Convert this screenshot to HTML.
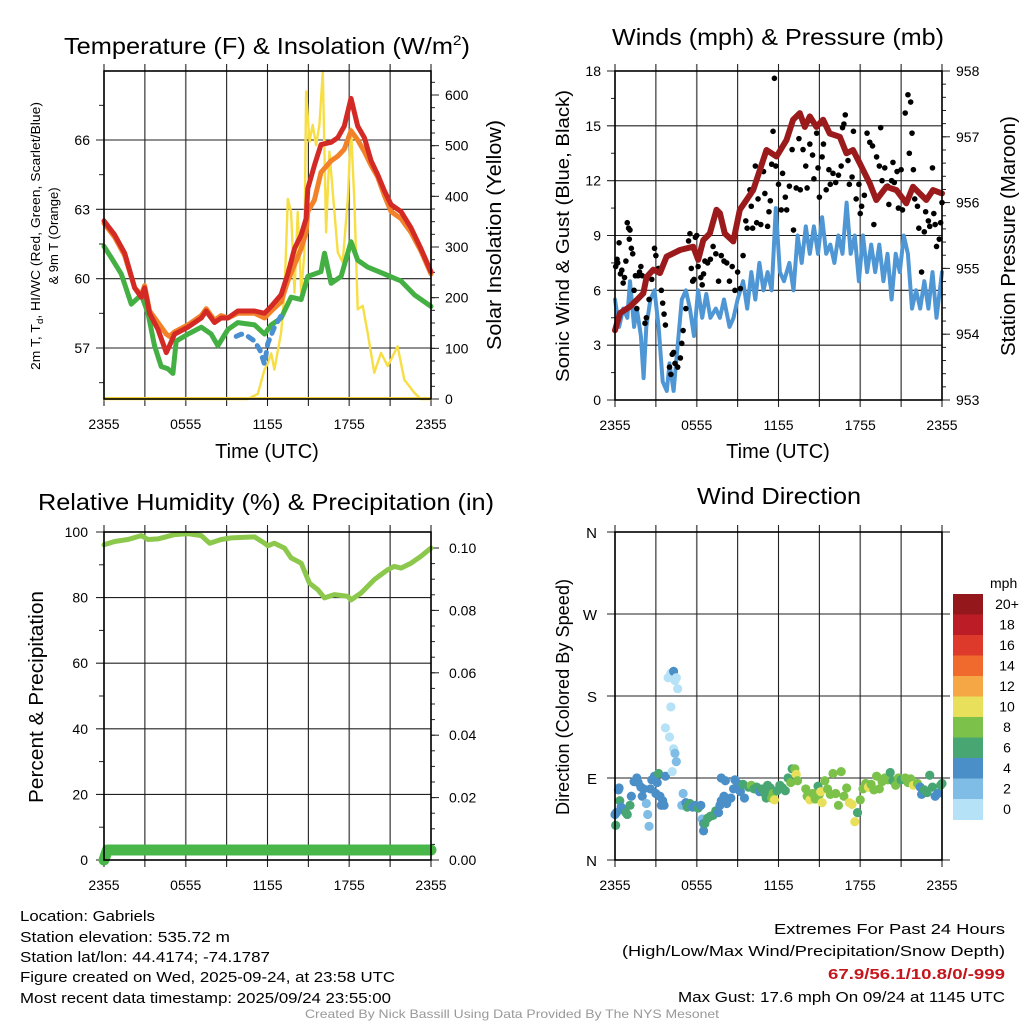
<!DOCTYPE html>
<html><head><meta charset="utf-8"><style>
html,body{margin:0;padding:0;background:#fff;}
svg{display:block;font-family:"Liberation Sans",Arial,sans-serif;}
</style></head><body>
<svg id="fig" width="1024" height="1024" viewBox="0 0 1024 1024" xmlns="http://www.w3.org/2000/svg">
<rect width="1024" height="1024" fill="#fff"/>
<g id="p1"></g>
<g id="p2"></g>
<g id="p3"></g>
<g id="p4"></g>
<text x="267" y="54" font-size="23" text-anchor="middle" textLength="406" lengthAdjust="spacingAndGlyphs">Temperature (F) &amp; Insolation (W/m<tspan font-size="14" dy="-9">2</tspan><tspan dy="9">)</tspan></text>
<text x="778" y="45" font-size="23" text-anchor="middle" textLength="332" lengthAdjust="spacingAndGlyphs">Winds (mph) &amp; Pressure (mb)</text>
<text x="266" y="510" font-size="23" text-anchor="middle" textLength="456" lengthAdjust="spacingAndGlyphs">Relative Humidity (%) &amp; Precipitation (in)</text>
<text x="779" y="504" font-size="23" text-anchor="middle" textLength="164" lengthAdjust="spacingAndGlyphs">Wind Direction</text>
<text x="267" y="458" font-size="20" text-anchor="middle">Time (UTC)</text>
<text x="778" y="458" font-size="20" text-anchor="middle">Time (UTC)</text>
<text transform="translate(40,236) rotate(-90)" font-size="13" text-anchor="middle" textLength="268" lengthAdjust="spacingAndGlyphs">2m T, T<tspan font-size="9" dy="3">d</tspan><tspan dy="-3">, HI/WC (Red, Green, Scarlet/Blue)</tspan></text>
<text transform="translate(58,236) rotate(-90)" font-size="13" text-anchor="middle">&amp; 9m T (Orange)</text>
<text transform="translate(501,235) rotate(-90)" font-size="20" text-anchor="middle" textLength="230" lengthAdjust="spacingAndGlyphs">Solar Insolation (Yellow)</text>
<text transform="translate(569,236) rotate(-90)" font-size="18" text-anchor="middle" textLength="292" lengthAdjust="spacingAndGlyphs">Sonic Wind &amp; Gust (Blue, Black)</text>
<text transform="translate(1015,236) rotate(-90)" font-size="20" text-anchor="middle" textLength="240" lengthAdjust="spacingAndGlyphs">Station Pressure (Maroon)</text>
<text transform="translate(43,697) rotate(-90)" font-size="20" text-anchor="middle" textLength="212" lengthAdjust="spacingAndGlyphs">Percent &amp; Precipitation</text>
<text transform="translate(569,697) rotate(-90)" font-size="18" text-anchor="middle" textLength="236" lengthAdjust="spacingAndGlyphs">Direction (Colored By Speed)</text>
<g font-size="15">
<text x="20" y="921" textLength="135" lengthAdjust="spacingAndGlyphs">Location: Gabriels</text>
<text x="20" y="942" textLength="210" lengthAdjust="spacingAndGlyphs">Station elevation: 535.72 m</text>
<text x="20" y="962" textLength="250" lengthAdjust="spacingAndGlyphs">Station lat/lon: 44.4174; -74.1787</text>
<text x="20" y="982" textLength="375" lengthAdjust="spacingAndGlyphs">Figure created on Wed, 2025-09-24, at 23:58 UTC</text>
<text x="20" y="1003" textLength="371" lengthAdjust="spacingAndGlyphs">Most recent data timestamp: 2025/09/24 23:55:00</text>
</g>
<g font-size="15" text-anchor="end">
<text x="1005" y="934" textLength="231" lengthAdjust="spacingAndGlyphs">Extremes For Past 24 Hours</text>
<text x="1005" y="956" textLength="383" lengthAdjust="spacingAndGlyphs">(High/Low/Max Wind/Precipitation/Snow Depth)</text>
<text x="1005" y="979" fill="#c4161c" font-weight="bold" textLength="177" lengthAdjust="spacingAndGlyphs">67.9/56.1/10.8/0/-999</text>
<text x="1005" y="1002" textLength="327" lengthAdjust="spacingAndGlyphs">Max Gust: 17.6 mph On 09/24 at 1145 UTC</text>
</g>
<text x="512" y="1018" font-size="12" fill="#999" text-anchor="middle" textLength="414" lengthAdjust="spacingAndGlyphs">Created By Nick Bassill Using Data Provided By The NYS Mesonet</text>
</svg>
<script>
// ---- Temperature panel data (hours since 2355) ----
const tempHours = [0,0.78,1.52,2.25,2.74,2.98,3.35,3.96,4.57,4.81,5.18,6.16,7.14,7.5,8.11,8.6,9.09,9.82,11.05,11.78,12.27,13.0,13.49,13.98,14.47,14.83,14.96,15.44,15.93,16.67,17.16,17.64,18.13,18.62,19.11,19.6,20.09,20.58,21.07,21.8,22.53,23.26,24];
const tempRed = [62.5,61.9,61.1,59.6,59.2,59.6,58.5,57.8,56.8,57.1,57.6,57.9,58.3,58.6,58.1,58.3,58.3,58.6,58.6,58.5,58.8,59.3,60.2,61.3,61.9,62.6,63.9,64.9,65.8,65.9,66.1,66.6,67.8,66.6,66.1,65.1,64.5,63.8,63.2,62.9,62.2,61.3,60.3];
const tempOrange = [62.4,61.8,61.0,59.6,59.3,59.7,58.6,58.1,57.6,57.5,57.7,58.0,58.4,58.7,58.2,58.4,58.3,58.5,58.5,58.3,58.6,59.0,59.9,60.6,61.3,62.0,62.9,63.4,64.6,65.1,65.3,65.6,66.4,66.0,65.5,64.9,64.4,63.6,62.9,62.6,62.0,61.2,60.2];
const dewHours = [0,0.54,1.27,2.0,2.74,3.23,3.71,4.2,4.69,5.06,5.3,6.16,7.14,7.87,8.36,9.09,9.82,11.05,11.78,12.27,13.0,13.73,14.47,14.96,15.93,16.18,16.67,17.4,18.13,18.62,19.35,20.58,21.8,22.78,24];
const dewGreen = [61.4,60.9,60.2,58.9,59.3,58.5,57.1,56.2,56.1,55.9,57.3,57.6,57.9,57.6,57.1,57.8,58.1,58.0,57.6,58.0,58.3,59.2,59.1,60.1,60.3,61.1,59.8,60.1,61.6,60.8,60.5,60.2,59.9,59.3,58.8];
const wcHours = [9.7,10.07,10.56,11.05,11.45,11.78,12.02,12.51,13.0];
const wcBlue = [57.5,57.6,57.5,57.3,56.9,56.3,57.2,57.9,58.4];
const solarHours = [0,10.56,11.29,11.78,12.02,12.27,12.51,13.0,13.25,13.49,13.73,13.98,14.22,14.47,14.71,14.83,15.08,15.32,15.57,15.81,16.06,16.3,16.54,16.79,17.16,17.52,17.89,18.13,18.38,18.62,18.99,19.35,19.84,20.33,20.82,21.55,22.04,22.78,23.26,24];
const solarVals = [0,0,10,58,70,90,58,131,210,395,369,210,369,210,289,607,508,541,501,541,646,329,488,408,289,270,395,534,389,177,184,131,52,91,65,104,38,12,0,0];
// ---- Winds panel data ----
const presHours = [0,0.37,1.1,1.59,2.08,2.32,2.81,3.3,3.79,4.28,4.77,5.74,6.11,6.48,6.96,7.45,7.7,8.06,8.68,9.16,10.14,11.12,11.85,12.59,13.07,13.56,13.93,14.3,14.78,15.27,15.76,16.5,16.98,17.47,17.96,18.7,19.18,19.92,20.65,21.38,21.87,22.85,23.34,24];
const presVals = [954.06,954.32,954.42,954.52,954.62,954.87,954.98,954.93,955.18,955.23,955.28,955.33,955.13,955.43,955.53,955.89,955.84,955.53,955.41,955.89,956.19,956.8,956.7,956.95,957.26,957.36,957.15,957.31,957.15,957.26,957.05,957.0,956.75,956.8,956.6,956.29,956.04,956.24,956.19,955.99,956.24,956.04,956.19,956.14];
const windHours = [0,0.3,0.6,0.9,1.1,1.4,1.6,1.9,2.1,2.3,2.6,2.9,3.2,3.5,3.8,4.0,4.3,4.6,4.9,5.2,5.5,5.8,6.1,6.4,6.7,7.0,7.4,7.7,8.0,8.4,8.7,9.0,9.4,9.7,10.0,10.3,10.6,10.9,11.2,11.5,11.8,12.1,12.4,12.8,13.1,13.4,13.7,14.0,14.3,14.6,14.9,15.2,15.5,15.8,16.1,16.4,16.7,17.0,17.3,17.6,17.9,18.2,18.5,18.8,19.1,19.4,19.7,20.0,20.3,20.6,20.9,21.2,21.5,21.8,22.1,22.4,22.7,23.0,23.3,23.6,24];
const windVals = [5.5,4,5,4.5,6.5,4,5,3.5,1.2,4,5.5,6,4,1,0.5,2,0.5,3,5.5,6,5,3.5,6,4.5,5.8,4.5,5,4.5,5.5,4,4.5,5.5,6.5,5,7,5.5,7.5,6,7,6,10.5,7,6.5,7.5,6,9,7.5,9.5,8,9.5,8,10,8,8.5,7.5,9,8,10.8,8,9,6.5,9,7,8.5,7,8.5,6.5,8,5.5,8,7,9,8,5,6,5,6.5,5,7,4.5,7];
const gustHours = [0.05,0.15,0.2,0.3,0.4,0.5,0.6,0.7,0.8,0.9,1.0,1.05,1.1,1.2,1.3,1.4,1.5,1.6,1.7,1.8,1.9,2.0,2.2,2.3,2.5,2.7,2.9,3.0,3.2,3.4,3.5,3.6,3.7,4.0,4.1,4.2,4.3,4.4,4.6,4.8,4.9,5.0,5.2,5.4,5.5,5.6,5.7,5.8,5.9,6.0,6.1,6.3,6.4,6.5,6.6,6.8,7.0,7.2,7.4,7.6,7.8,8.0,8.2,8.4,8.6,8.8,9.0,9.2,9.4,9.6,9.7,9.9,10.0,10.1,10.3,10.4,10.5,10.7,10.9,11.0,11.2,11.3,11.4,11.5,11.6,11.7,11.8,12.0,12.2,12.3,12.5,12.6,12.8,13.0,13.1,13.3,13.5,13.6,13.8,14.0,14.1,14.3,14.5,14.6,14.8,14.9,15.0,15.2,15.3,15.5,15.7,15.8,16.0,16.2,16.4,16.6,16.7,16.8,16.9,17.1,17.2,17.4,17.5,17.7,17.9,18.0,18.1,18.3,18.5,18.7,18.9,19.0,19.2,19.4,19.5,19.6,19.8,20.0,20.1,20.3,20.4,20.5,20.7,20.8,21.0,21.1,21.3,21.5,21.6,21.7,21.8,21.9,22.0,22.2,22.3,22.5,22.7,22.8,23.0,23.1,23.3,23.4,23.5,23.6,23.8,23.9,24.0];
const gustVals = [7.3,7.7,7.5,8.6,6.9,7.1,6.4,6.7,7.6,9.7,9.4,8.8,9.3,8.3,8.0,6.0,6.8,5.0,6.8,7.0,7.3,6.8,4.2,4.5,5.5,6.6,8.3,7.9,7.2,6.0,5.3,4.7,4.1,1.8,1.4,2.5,2.6,2.0,1.8,2.3,3.1,3.8,5.0,8.7,9.1,7.2,6.5,6.6,8.9,9.0,7.3,6.7,6.3,6.9,7.6,7.5,7.7,8.4,8.0,6.5,7.9,7.6,7.5,6.5,7.3,6.0,7.0,6.1,7.9,9.8,9.4,11.5,10.6,9.4,12.8,9.7,11.0,9.6,12.5,11.3,9.5,10.3,10.9,12.9,14.7,17.6,12.8,11.8,10.4,12.4,11.1,10.4,11.7,13.7,9.3,11.6,14.3,11.5,13.7,12.8,11.6,14.0,13.4,12.1,14.6,12.7,11.1,13.3,14.0,11.5,12.6,11.8,12.4,11.9,12.3,12.8,14.9,15.1,15.6,13.1,11.8,12.2,14.7,11.0,11.8,10.2,10.6,11.2,14.6,14.1,13.9,9.6,13.3,12.8,14.9,12.0,12.7,11.7,10.7,12.0,13.0,11.9,12.5,10.5,12.6,10.4,15.7,16.7,13.5,16.3,14.6,12.6,11.0,10.6,9.4,7.0,9.2,10.3,9.8,9.5,12.7,10.2,9.6,8.4,8.8,9.7,10.8];
// ---- Humidity panel data ----
const rhHours = [0,0.78,1.76,2.74,3.23,3.96,5.18,6.16,7.14,7.75,8.6,9.34,11.05,11.78,12.02,12.51,13.25,13.73,14.47,15.08,15.69,16.18,16.91,17.89,18.13,18.87,19.84,20.82,21.31,21.8,22.53,23.26,24];
const rhVals = [96.1,97.1,97.7,98.9,97.7,97.9,99.2,99.5,98.9,96.6,97.7,98.2,98.5,96.6,95.8,96.6,95.1,92.1,90.5,84.4,82.4,79.9,80.9,80.4,79.3,81.4,85.5,88.5,89.5,89.0,90.5,92.6,95.1];
const precipHours = [0,0.25,24];
const precipVals = [0,0.0032,0.0032];
// ---- Wind direction data ----
const dirHours = [0,0.05,0.1,0.25,0.3,0.35,0.45,0.6,0.8,0.9,1.1,1.2,1.4,1.6,1.7,1.9,2.0,2.1,2.3,2.4,2.5,2.6,2.7,2.9,3.0,3.1,3.2,3.3,3.4,3.5,3.6,3.7,3.9,4.0,4.1,4.2,4.3,4.4,4.5,4.6,4.1,3.7,4.0,4.3,4.4,4.5,4.2,5.0,4.9,5.2,5.3,5.5,5.7,5.9,6.1,6.3,6.4,6.5,6.5,6.6,6.8,7.0,7.2,7.4,7.6,7.7,7.8,8.0,7.8,8.1,8.2,8.5,8.7,8.8,9.0,9.2,9.4,9.5,9.8,10.0,10.2,10.4,10.6,10.8,11.0,11.1,11.2,11.4,11.5,11.6,11.7,11.9,12.1,12.3,12.5,12.7,12.9,13.0,13.2,13.3,13.4,14.0,14.1,14.3,14.5,14.7,14.9,15.0,15.1,15.2,15.4,15.6,15.8,16.0,16.2,16.4,16.6,16.8,17.0,17.2,17.4,17.6,17.8,18.0,18.2,18.4,18.6,18.8,19.0,19.2,19.4,19.6,19.8,20.0,20.2,20.4,20.6,20.8,21.0,21.3,21.5,21.7,21.9,22.2,22.4,22.5,22.7,22.9,23.1,23.3,23.5,23.7,23.9,24.0];
const dirDeg = [50,38,52,77,79,65,58,55,52,50,60,70,86,90,85,80,70,78,62,50,37,78,88,92,73,85,95,70,60,65,60,92,200,201,205,200,207,197,200,188,168,145,135,122,117,108,97,73,60,63,58,62,58,60,57,60,45,40,32,40,46,48,49,54,52,60,65,70,90,87,62,68,78,88,84,75,83,68,80,82,78,80,75,78,73,68,82,79,68,73,66,76,82,79,76,90,85,100,100,94,87,78,70,66,73,67,81,72,75,63,87,78,72,95,73,60,97,70,79,63,61,42,52,66,78,84,80,83,77,92,78,86,90,88,96,87,82,90,88,90,85,89,82,84,80,72,77,74,93,80,70,73,82,84];
const dirSpeed = [4,6,4,4,4,6,5,4,6,6,6,4,4,4,4,4,4,4,2,2,2,4,4,4,4,4,6,4,4,4,4,4,0,0,0,0,4,0,0,0,0,0,0,0,2,2,0,2,2,4,6,6,4,4,6,4,2,4,4,6,6,6,6,6,4,4,4,4,4,4,4,4,4,4,4,4,6,4,6,8,6,6,4,6,6,6,6,6,8,8,10,6,6,6,6,6,8,6,8,10,8,8,8,10,8,8,6,8,10,10,8,8,8,8,8,8,8,8,8,10,10,10,6,8,8,8,10,8,8,8,8,8,8,8,6,6,8,8,6,8,8,8,10,8,4,4,6,6,6,6,4,4,6,6];
const speedBinLabels = ["0","2","4","6","8","10","12","14","16","18","20+"];
const speedBinColors = ["#b5e2f7","#80bde6","#4a8fc7","#48a673","#7cc24a","#e8e05a","#f5a746","#ef6a2c","#dd3a2b","#bb1c25","#93171b"];
const timeTickLabels = ["2355","0555","1155","1755","2355"];
const tempTicks = [57,60,63,66];
const solarTicks = [0,100,200,300,400,500,600];
const windTicks = [0,3,6,9,12,15,18];
const presTicks = [953,954,955,956,957,958];
const rhTicks = [0,20,40,60,80,100];
const precipTicks = [0,0.02,0.04,0.06,0.08,0.10];
const dirTickVals = [0,90,180,270,360];
const dirTickLabels = ["N","E","S","W","N"];

const NS="http://www.w3.org/2000/svg";
function mk(parent,tag,attrs){const e=document.createElementNS(NS,tag);for(const k in attrs)e.setAttribute(k,attrs[k]);parent.appendChild(e);return e;}
function lin(d0,d1,r0,r1){return v=>r0+(v-d0)*(r1-r0)/(d1-d0);}

function frame(g,L,R,T,B,xs){
  // vertical grid every 3h
  for(let h=0;h<=24;h+=3){
    const x=xs(h);
    const l=mk(g,'line',{x1:x,y1:T-7,x2:x,y2:B+7,stroke:(h%6===0&&h%12!==0)?'#666':'#222','stroke-width':(h%6===0&&h%12!==0)?1.6:1.1});
    
    
  }
  timeTickLabels.forEach((t,i)=>{
    const tx=mk(g,'text',{x:xs(i*6),y:B+30,'font-size':14,'text-anchor':'middle'});
    
    
    tx.textContent=t;
  });
}
function hgrid(g,L,R,ys,ticks,fmt,side,minor){
  ticks.forEach(v=>{
    const y=ys(v);
    const l=mk(g,'line',{x1:side==='left'?L-8:L,y1:y,x2:side==='left'?R:R+8,y2:y,stroke:'#222','stroke-width':1.1});
    
    
  });
}
function yLabels(g,x,ys,ticks,fmt,anchor){
  ticks.forEach(v=>{
    const t=mk(g,'text',{x:x,y:ys(v)+5,'font-size':14,'text-anchor':anchor});
    
    
    t.textContent=fmt(v);
  });
}
function ticksOut(g,x,ys,vals,len){
  vals.forEach(v=>{mk(g,'line',{x1:x,y1:ys(v),x2:x+len,y2:ys(v),stroke:'#222','stroke-width':1});});
}
function path(g,xs,ys,X,Y,attrs,name){
  let d='';X.forEach((h,i)=>{d+=(i?'L':'M')+xs(h).toFixed(1)+','+ys(Y[i]).toFixed(1);});
  const p=mk(g,'path',Object.assign({d:d,fill:'none','stroke-linejoin':'round','stroke-linecap':'round'},attrs));
  
  
  return p;
}
function box(g,L,R,T,B){const r=mk(g,'rect',{x:L,y:T,width:R-L,height:B-T,fill:'none',stroke:'#000','stroke-width':1.6});}

// Panel 1
(function(){
  const g=document.getElementById('p1');const L=104,R=431,T=71,B=399;
  const xs=lin(0,24,L,R), yT=lin(57,66,348,140), yS=lin(0,600,399,95);
  frame(g,L,R,T,B,xs);
  hgrid(g,L,R,yT,tempTicks,null,'left');
  ticksOut(g,L,yT,[55.5,58.5,61.5,64.5,67.5],-5);
  ticksOut(g,R,yS,solarTicks,8);
  const mi=[];for(let v=0;v<=640;v+=25)mi.push(v);ticksOut(g,R,yS,mi,4);
  yLabels(g,L-14,yT,tempTicks,v=>v,'end');
  yLabels(g,R+14,yS,solarTicks,v=>v,'start');
  path(g,xs,yS,solarHours,solarVals,{stroke:'#f7de45','stroke-width':2.4},'solar-line');
  path(g,xs,yT,dewHours,dewGreen,{stroke:'#44b043','stroke-width':5},'dewpoint-line');
  path(g,xs,yT,wcHours,wcBlue,{stroke:'#4a90d0','stroke-width':5,'stroke-dasharray':'6 7'},'windchill-line');
  path(g,xs,yT,tempHours,tempOrange,{stroke:'#f2822a','stroke-width':5},'temp-9m-line');
  path(g,xs,yT,tempHours,tempRed,{stroke:'#d42a26','stroke-width':5},'temp-2m-line');
  mk(g,'line',{x1:L,y1:B-1,x2:R,y2:B-1,stroke:'#f2d040','stroke-width':2});
  box(g,L,R,T,B);
})();
// Panel 2
(function(){
  const g=document.getElementById('p2');const L=615,R=942,T=71,B=400;
  const xs=lin(0,24,L,R), yW=lin(0,18,B,T), yP=lin(953,958,B,T);
  frame(g,L,R,T,B,xs);
  hgrid(g,L,R,yW,windTicks,null,'left');
  ticksOut(g,R,yP,presTicks,8);
  const mi=[];for(let v=953;v<=958;v+=0.2)mi.push(v);ticksOut(g,R,yP,mi,4);
  ticksOut(g,L,yW,[1.5,4.5,7.5,10.5,13.5,16.5],-4);
  yLabels(g,L-14,yW,windTicks,v=>v,'end');
  yLabels(g,R+14,yP,presTicks,v=>v,'start');
  path(g,xs,yW,windHours,windVals,{stroke:'#4f96d4','stroke-width':4},'sonic-wind-line');
  gustHours.forEach((h,i)=>{
    const c=mk(g,'circle',{cx:xs(h),cy:yW(gustVals[i]),r:2.8,fill:'#000'});
    
    
  });
  path(g,xs,yP,presHours,presVals,{stroke:'#9b1b1d','stroke-width':6},'pressure-line');
  box(g,L,R,T,B);
})();
// Panel 3
(function(){
  const g=document.getElementById('p3');const L=104,R=431,T=532,B=860;
  const xs=lin(0,24,L,R), yR=lin(0,100,B,T), yPr=lin(0,0.1,B,548);
  frame(g,L,R,T,B,xs);
  hgrid(g,L,R,yR,rhTicks,null,'left');
  ticksOut(g,L,yR,[10,30,50,70,90],-5);
  ticksOut(g,R,yPr,precipTicks,8);
  const mi=[];for(let v=0;v<=0.105;v+=0.005)mi.push(v);ticksOut(g,R,yPr,mi,4);
  yLabels(g,L-16,yR,rhTicks,v=>v,'end');
  yLabels(g,R+18,yPr,precipTicks,v=>v.toFixed(2),'start');
  path(g,xs,yR,rhHours,rhVals,{stroke:'#8cc84b','stroke-width':5},'humidity-line');
  path(g,xs,yPr,precipHours,precipVals,{stroke:'#49b649','stroke-width':11},'precip-line');
  box(g,L,R,T,B);
})();
// Panel 4
(function(){
  const g=document.getElementById('p4');const L=615,R=942,T=532,B=860;
  const xs=lin(0,24,L,R), yD=lin(0,360,B,T);
  frame(g,L,R,T,B,xs);
  dirTickVals.forEach(v=>{const l=mk(g,'line',{x1:L-8,y1:yD(v),x2:R+8,y2:yD(v),stroke:'#222','stroke-width':1.1});});
  dirTickVals.forEach((v,i)=>{const t=mk(g,'text',{x:L-18,y:yD(v)+6,'font-size':15,'text-anchor':'end'});t.textContent=dirTickLabels[i];});
  dirHours.forEach((h,i)=>{
    const bi=Math.min(10,Math.floor(dirSpeed[i]/2));
    const c=mk(g,'circle',{cx:xs(h),cy:yD(dirDeg[i]),r:4.6,fill:speedBinColors[bi]});
    
    
  });
  box(g,L,R,T,B);
  // colorbar
  const cb=mk(g,'g',{});
  
  
  const top=594,bh=20.5;
  const mt=mk(cb,'text',{x:990,y:588,'font-size':14});mt.textContent='mph';
  for(let k=0;k<11;k++){
    const idx=10-k;
    const r=mk(cb,'rect',{x:953,y:top+k*bh,width:30,height:bh+0.5,fill:speedBinColors[idx]});
    
    
    const t=mk(cb,'text',{x:1007,y:top+k*bh+15,'font-size':14,'text-anchor':'middle'});
    
    
    t.textContent=speedBinLabels[idx];
  }
})();
</script>
</body></html>
